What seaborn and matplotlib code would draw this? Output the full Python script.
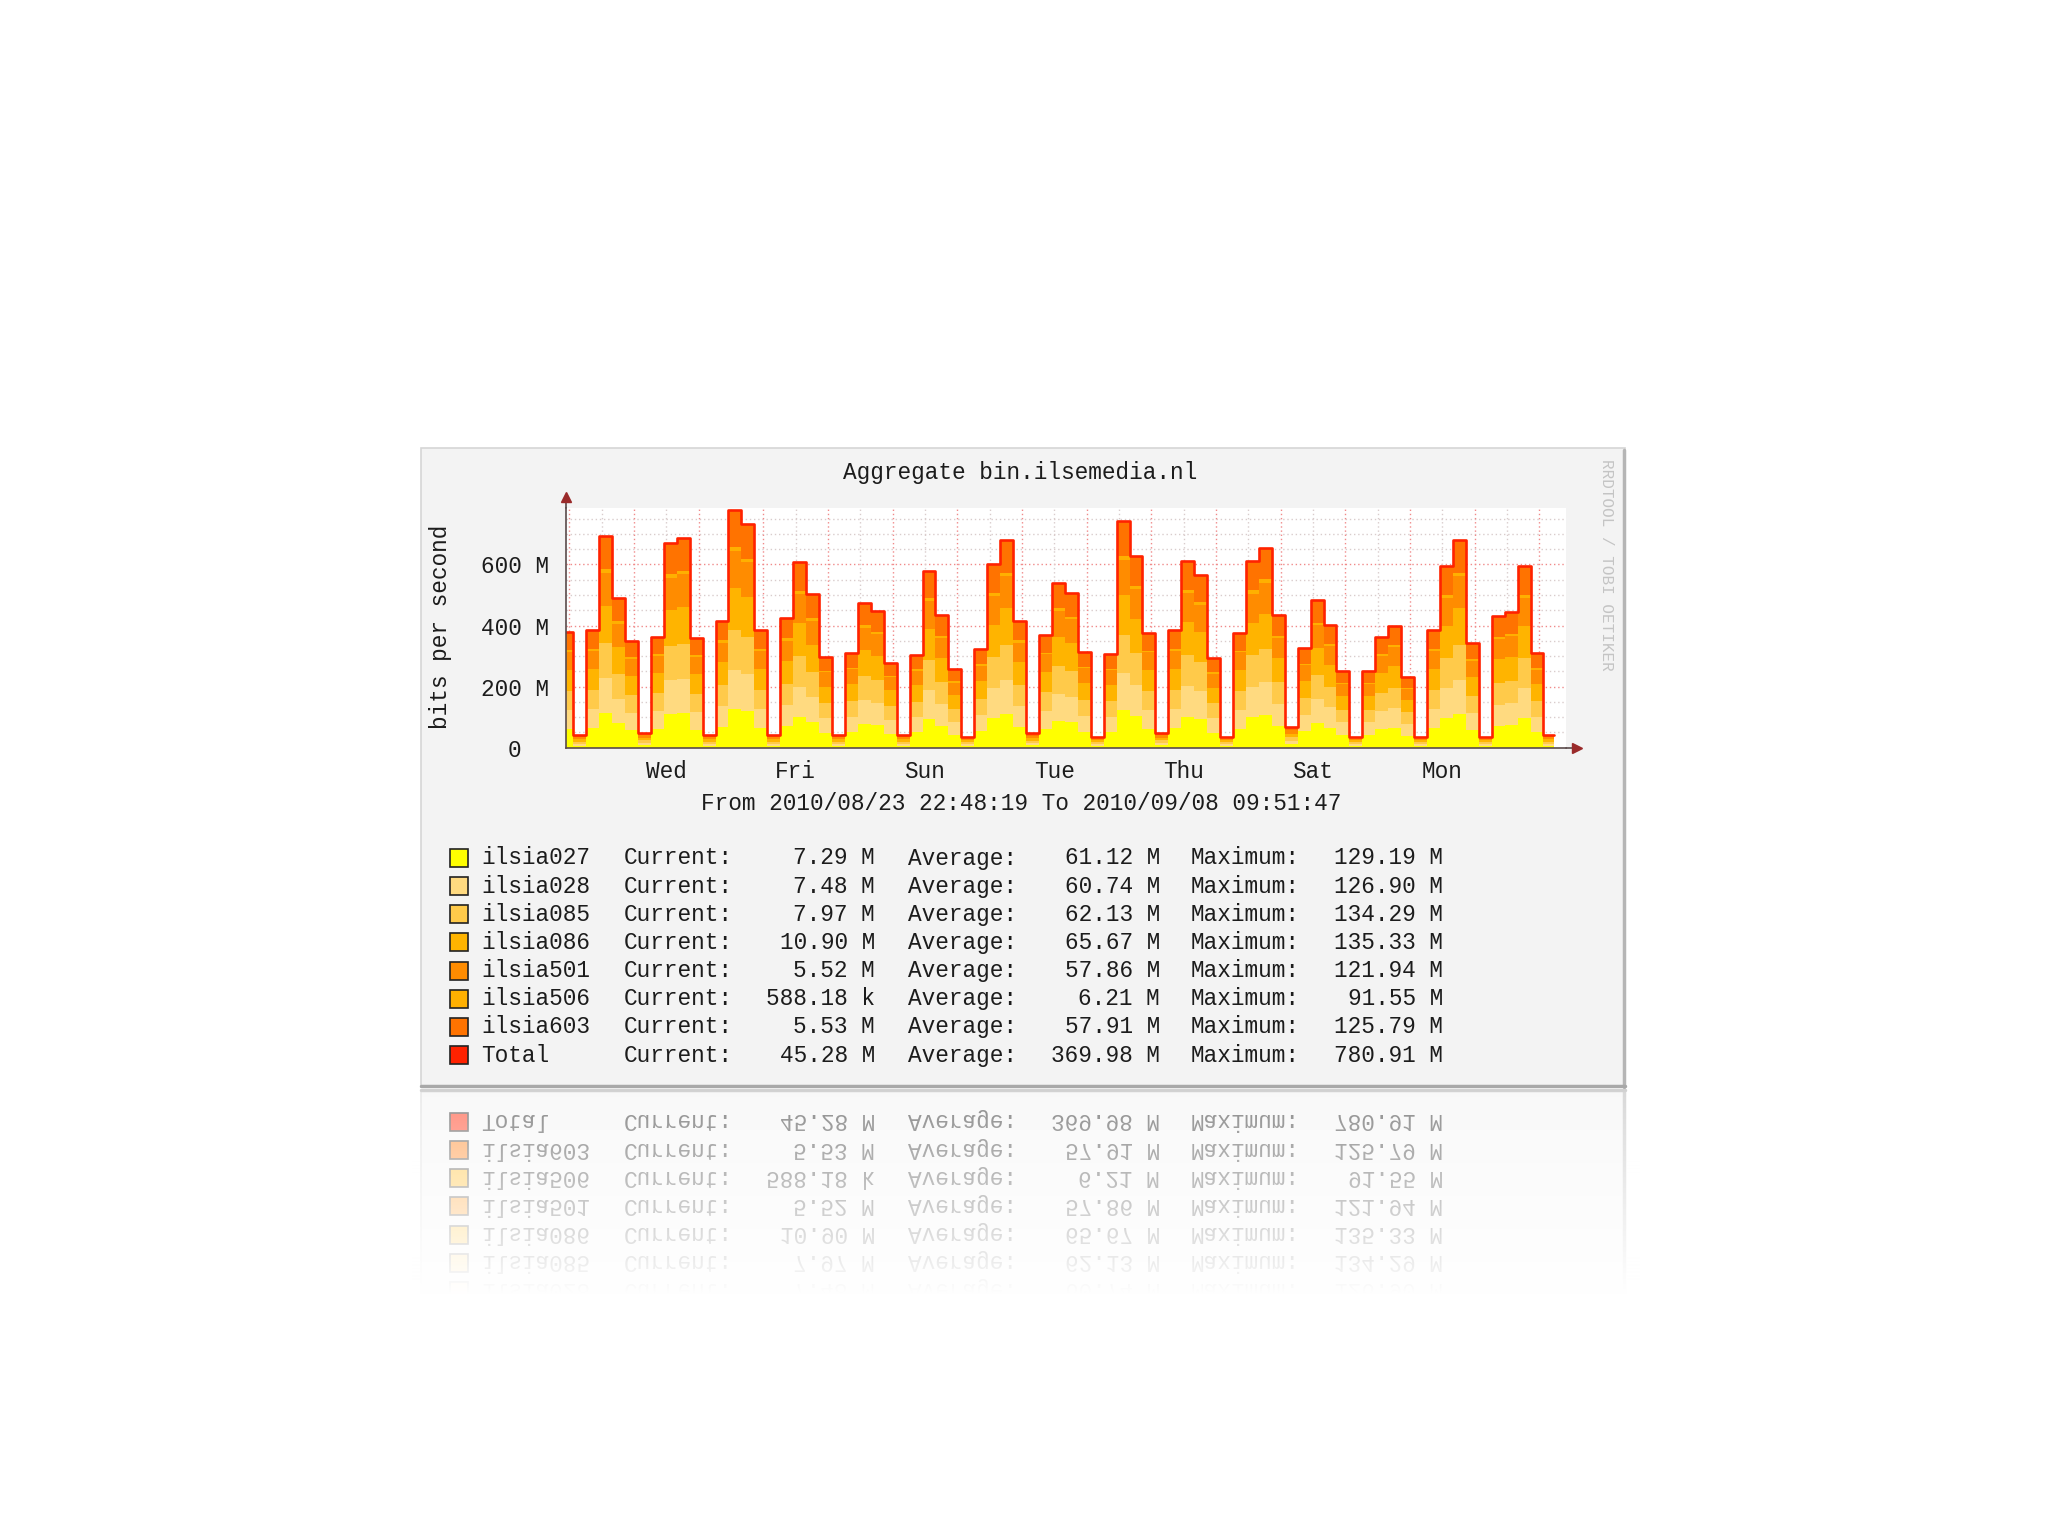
import numpy as np
import pandas as pd
import matplotlib
matplotlib.use('Agg')
import matplotlib.pyplot as plt
from matplotlib.patches import Rectangle
from matplotlib.lines import Line2D
import seaborn as sns

# ---- values ----
series_names = ['ilsia027', 'ilsia028', 'ilsia085', 'ilsia086', 'ilsia501', 'ilsia506', 'ilsia603']
series_colors = ['#FFFF00', '#FFDA80', '#FFCA4A', '#FFB400', '#FF8C00', '#FFB000', '#FF7300']
total_name = 'Total'
total_color = '#FF2200'

current_vals = ['7.29 M', '7.48 M', '7.97 M', '10.90 M', '5.52 M', '588.18 k', '5.53 M', '45.28 M']
average_vals = ['61.12 M', '60.74 M', '62.13 M', '65.67 M', '57.86 M', '6.21 M', '57.91 M', '369.98 M']
maximum_vals = ['129.19 M', '126.90 M', '134.29 M', '135.33 M', '121.94 M', '91.55 M', '125.79 M', '780.91 M']
average_mbit = [61.12, 60.74, 62.13, 65.67, 57.86, 6.21, 57.91]

graph_start = '2010-08-23 22:48:19'
graph_end = '2010-09-08 09:51:47'
first_sample = '2010-08-24 01:30'
last_sample_end = '2010-09-08 05:30'
sample_freq = '288min'

# total bits per second (M) for each consolidated sample, first one partial
total_mbit = [378,
              41, 384, 692, 490, 351,
              49, 364, 672, 686, 358,
              41, 416, 780, 733, 384,
              41, 424, 608, 503, 298,
              41, 311, 475, 449, 279,
              41, 304, 580, 435, 258,
              36, 324, 600, 679, 416,
              47, 369, 541, 508, 315,
              36, 306, 744, 628, 377,
              49, 384, 613, 564, 293,
              36, 377, 610, 653, 435,
              69, 326, 484, 402, 252,
              36, 252, 364, 397, 233,
              36, 384, 594, 679, 344,
              36, 430, 443, 594, 309,
              41]

day_labels_start = '2010-08-25 12:00'
ytick_vals = [0, 200, 400, 600]
ytick_labels = ['0  ', '200 M', '400 M', '600 M']

title = 'Aggregate bin.ilsemedia.nl'
ylabel = 'bits per second'
period_text = 'From 2010/08/23 22:48:19 To 2010/09/08 09:51:47'
watermark = 'RRDTOOL / TOBI OETIKER'

# ---- figure ----
W, H = 2048, 1536
sns.set_theme(style='white')
plt.rcParams['font.family'] = ['Liberation Mono', 'DejaVu Sans Mono']
txt_color = '#1c1c1c'
fs = 16.4

fig = plt.figure(figsize=(W / 100, H / 100), dpi=100)
fig.patch.set_facecolor('white')


def fx(px):
    return px / W


def fy(py):
    return 1 - py / H


# panel frame
fig.add_artist(Rectangle((fx(421), fy(1087)), fx(1625) - fx(421), fy(448) - fy(1087),
                         transform=fig.transFigure, facecolor='#f3f3f3',
                         edgecolor='#d6d6d6', lw=1.2, zorder=-5))
fig.add_artist(Line2D([fx(1624), fx(1624)], [fy(450), fy(1087)], transform=fig.transFigure,
                      color='#b5b5b5', lw=2.5, zorder=-4))
fig.add_artist(Line2D([fx(421), fx(1625)], [fy(1085.5), fy(1085.5)], transform=fig.transFigure,
                      color='#a8a8a8', lw=2.5, zorder=-4))

ax = fig.add_axes([fx(566), fy(747.7), fx(1566) - fx(566), fy(508) - fy(747.7)])
ax.set_facecolor('white')

# sample edges
edges = pd.DatetimeIndex([pd.Timestamp(graph_start)]).append(
    pd.date_range(first_sample, periods=len(total_mbit) - 1, freq=sample_freq)).append(
    pd.DatetimeIndex([pd.Timestamp(last_sample_end)]))
total = np.array(total_mbit, dtype=float)
total_ext = np.append(total, total[-1])

# split total into the stacked sources by their share of the legend averages
share = np.array(average_mbit) / np.sum(average_mbit)
lower = np.zeros_like(total_ext)
for name, col, s in zip(series_names, series_colors, share):
    upper = lower + total_ext * s
    ax.fill_between(edges, lower, upper, step='post', color=col, lw=0, zorder=2)
    lower = upper

sns.lineplot(x=edges, y=total_ext, ax=ax, drawstyle='steps-post', color=total_color,
             lw=1.9, estimator=None, sort=False, zorder=3)

# grid
grid_minor = '#d9cccc'
grid_major = '#f08a8a'
for v in range(50, 800, 50):
    ax.axhline(v, color=grid_major if v % 200 == 0 else grid_minor,
               ls=(0, (1, 2)), lw=1, zorder=0)
for t in pd.date_range('2010-08-24 00:00', '2010-09-08 00:00', freq='12h'):
    ax.axvline(t, color=grid_major if t.hour == 0 else grid_minor,
               ls=(0, (1, 2)), lw=1, zorder=0)

ax.set_xlim(pd.Timestamp(graph_start), pd.Timestamp(graph_end))
ax.set_ylim(0, 785)

label_days = pd.date_range(day_labels_start, periods=7, freq='2D')
ax.set_xticks(label_days, [d.strftime('%a') for d in label_days])
ax.set_xticks(pd.date_range('2010-08-24 00:00', '2010-09-08 00:00', freq='12h'), minor=True)
ax.set_yticks(ytick_vals, ytick_labels)
ax.set_yticks(np.arange(50, 800, 50), minor=True)
ax.set_xlabel('')
ax.set_ylabel('')
ax.tick_params(axis='x', which='major', length=0, pad=9, labelsize=fs, labelcolor=txt_color)
ax.tick_params(axis='y', which='major', length=3, width=1, color='#e07070', pad=9,
               labelsize=fs, labelcolor=txt_color)
ax.tick_params(which='minor', length=3, width=1, color='#d8b0b0')
ax.tick_params(axis='x', which='minor', direction='out')

for side in ['top', 'right']:
    ax.spines[side].set_visible(False)
for side in ['left', 'bottom']:
    ax.spines[side].set_color('#5a4a4a')
    ax.spines[side].set_linewidth(1.2)
    ax.spines[side].set_zorder(4)

# axis arrows
arrow_col = '#9a2a2a'
ax.plot([0, 0], [1, 1.04], transform=ax.transAxes, clip_on=False, color='#5a4a4a', lw=1.2)
ax.plot([0], [1.045], transform=ax.transAxes, clip_on=False, marker='^', ms=7,
        color=arrow_col, mec=arrow_col)
ax.plot([1, 1.008], [0, 0], transform=ax.transAxes, clip_on=False, color='#5a4a4a', lw=1.2)
ax.plot([1.011], [0], transform=ax.transAxes, clip_on=False, marker='>', ms=7,
        color=arrow_col, mec=arrow_col)

# texts
fig.text(fx(1020), fy(473), title, ha='center', va='center', fontsize=fs, color=txt_color)
fig.text(fx(440), fy(627), ylabel, ha='center', va='center', rotation=90, fontsize=fs,
         color=txt_color)
fig.text(fx(1021), fy(803), period_text, ha='center', va='center', fontsize=fs, color=txt_color)
fig.text(fx(1607), fy(565), watermark, ha='center', va='center', rotation=270, fontsize=11.5,
         color='#c4c4c4')

# legend block
legend_names = series_names + [total_name]
legend_colors = series_colors + [total_color]
for i, (name, col) in enumerate(zip(legend_names, legend_colors)):
    yc = 858 + i * 28.15
    fig.add_artist(Rectangle((fx(450), fy(yc + 9)), fx(18), 18 / H, transform=fig.transFigure,
                             facecolor=col, edgecolor='#222222', lw=1.2))
    fig.text(fx(481), fy(yc), name, ha='left', va='center', fontsize=fs, color=txt_color)
    fig.text(fx(624), fy(yc), 'Current:', ha='left', va='center', fontsize=fs, color=txt_color)
    fig.text(fx(875), fy(yc), current_vals[i], ha='right', va='center', fontsize=fs, color=txt_color)
    fig.text(fx(908), fy(yc), 'Average:', ha='left', va='center', fontsize=fs, color=txt_color)
    fig.text(fx(1160), fy(yc), average_vals[i], ha='right', va='center', fontsize=fs, color=txt_color)
    fig.text(fx(1191), fy(yc), 'Maximum:', ha='left', va='center', fontsize=fs, color=txt_color)
    fig.text(fx(1443), fy(yc), maximum_vals[i], ha='right', va='center', fontsize=fs, color=txt_color)

# mirrored reflection under the panel
fig.canvas.draw()
img = np.asarray(fig.canvas.buffer_rgba())[:, :, :3].astype(float)
mirror_row = 1088
refl_len = 230
x0, x1 = 412, 1640
src = img[mirror_row - refl_len:mirror_row, x0:x1][::-1]
d = np.arange(refl_len)[:, None, None]
alpha = np.clip(0.52 * (1 - d / 205.0), 0, 1)
refl = 255 * (1 - alpha) + src * alpha
fig.figimage(np.clip(refl, 0, 255).astype(np.uint8), xo=x0, yo=H - (mirror_row + 1 + refl_len),
             origin='upper', zorder=5)

fig.savefig('out.png', dpi=100)
